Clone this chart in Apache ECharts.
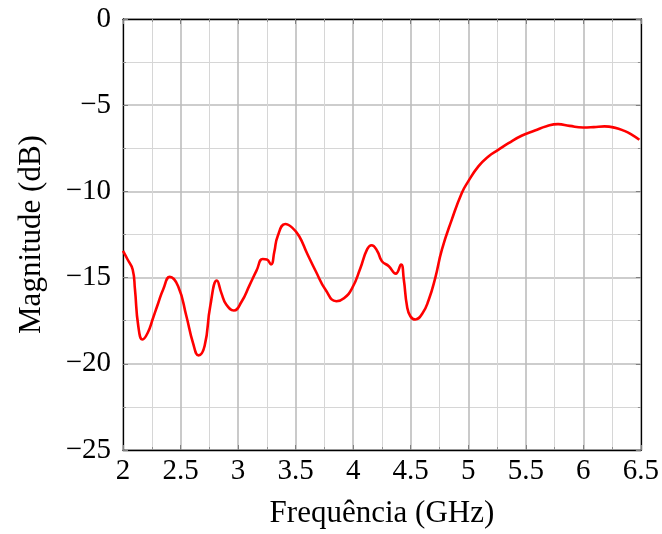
<!DOCTYPE html>
<html>
<head>
<meta charset="utf-8">
<script src="https://cdn.jsdelivr.net/npm/echarts@6/dist/echarts.min.js"></script>
<style>
  html, body { margin: 0; padding: 0; background: #fff; }
  #chart { width: 662px; height: 534px; }
</style>
</head>
<body>
<div id="chart"></div>
<script>
// Frequency sweep (GHz) and measured magnitude (dB)
const freqGHz = [
  2.0, 2.04, 2.084, 2.104, 2.133, 2.17, 2.215, 2.262, 2.305, 2.349, 2.407,
  2.479, 2.551, 2.608, 2.657, 2.709, 2.758, 2.816, 2.855, 2.897, 2.963,
  3.03, 3.099, 3.16, 3.214, 3.25, 3.286, 3.315, 3.344, 3.41, 3.47, 3.531,
  3.6, 3.675, 3.76, 3.854, 3.92, 3.992, 4.06, 4.122, 4.16, 4.21, 4.25,
  4.31, 4.37, 4.416, 4.44, 4.468, 4.497, 4.54, 4.6, 4.656, 4.714, 4.771,
  4.857, 4.944, 5.0, 5.088, 5.175, 5.26, 5.35, 5.463, 5.579, 5.68, 5.78,
  5.88, 5.997, 6.09, 6.184, 6.27, 6.357, 6.42, 6.487
];
const magnitudeDb = [
  -13.45, -13.95, -14.53, -15.69, -17.82, -18.59, -18.2, -17.33, -16.5, -15.69, -14.96,
  -15.5, -17.24, -18.78, -19.51, -18.97, -16.66, -15.17, -15.9, -16.56, -16.91,
  -16.4, -15.45, -14.6, -13.92, -13.95, -14.24, -13.5, -12.6, -11.89, -12.1, -12.6,
  -13.6, -14.63, -15.7, -16.37, -16.2, -15.6, -14.5, -13.35, -13.12, -13.47, -14.05,
  -14.34, -14.77, -14.24, -15.11, -16.66, -17.24, -17.43, -17.1, -16.3, -15.0, -13.38,
  -11.64, -10.09, -9.42, -8.55, -7.97, -7.59, -7.2, -6.77, -6.47, -6.22, -6.10,
  -6.2, -6.29, -6.27, -6.23, -6.3, -6.49, -6.7, -7.0
];

const FONT = 'Liberation Serif';
const minus = v => String(v).replace('-', '\u2212');

const chart = echarts.init(document.getElementById('chart'), null, { renderer: 'canvas' });

const gridMajor = { show: true, lineStyle: { color: '#bdbdbd', width: 1.6 } };
const gridMinor = { show: true, lineStyle: { color: '#d6d6d6', width: 1 } };
const frame = { show: true, onZero: false, lineStyle: { color: '#000', width: 1.3 } };
const tick = { show: true, inside: true, length: 5, lineStyle: { color: '#808080', width: 1 } };
const mtick = { show: true, inside: true, length: 3, splitNumber: 2, lineStyle: { color: '#909090', width: 1 } };

chart.setOption({
  animation: false,
  backgroundColor: '#fff',
  grid: { left: 123, right: 19, top: 19, bottom: 83, containLabel: false },
  xAxis: [
    {
      type: 'value', min: 2, max: 6.5, interval: 0.5, position: 'bottom',
      name: 'Frequência (GHz)', nameLocation: 'middle', nameGap: 48,
      nameTextStyle: { fontFamily: FONT, fontSize: 31, color: '#000' },
      axisLine: frame, axisTick: tick, minorTick: mtick,
      splitLine: gridMajor, minorSplitLine: gridMinor,
      axisLabel: { fontFamily: FONT, fontSize: 29, color: '#000', margin: 7, formatter: minus }
    },
    {
      type: 'value', min: 2, max: 6.5, interval: 0.5, position: 'top',
      axisLine: frame, axisTick: tick, minorTick: mtick,
      splitLine: { show: false }, axisLabel: { show: false }
    }
  ],
  yAxis: [
    {
      type: 'value', min: -25, max: 0, interval: 5, position: 'left',
      name: 'Magnitude (dB)', nameLocation: 'middle', nameGap: 76,
      nameTextStyle: { fontFamily: FONT, fontSize: 31, color: '#000' },
      axisLine: frame, axisTick: tick, minorTick: mtick,
      splitLine: gridMajor, minorSplitLine: gridMinor,
      axisLabel: { fontFamily: FONT, fontSize: 29, color: '#000', margin: 12, formatter: minus }
    },
    {
      type: 'value', min: -25, max: 0, interval: 5, position: 'right',
      axisLine: frame, axisTick: tick, minorTick: mtick,
      splitLine: { show: false }, axisLabel: { show: false }
    }
  ],
  series: [{
    type: 'line',
    xAxisIndex: 0, yAxisIndex: 0,
    data: freqGHz.map((f, i) => [f, magnitudeDb[i]]),
    showSymbol: false,
    smooth: 0.5,
    lineStyle: { color: '#ff0000', width: 2.6 },
    z: 5
  }]
});
</script>
</body>
</html>
